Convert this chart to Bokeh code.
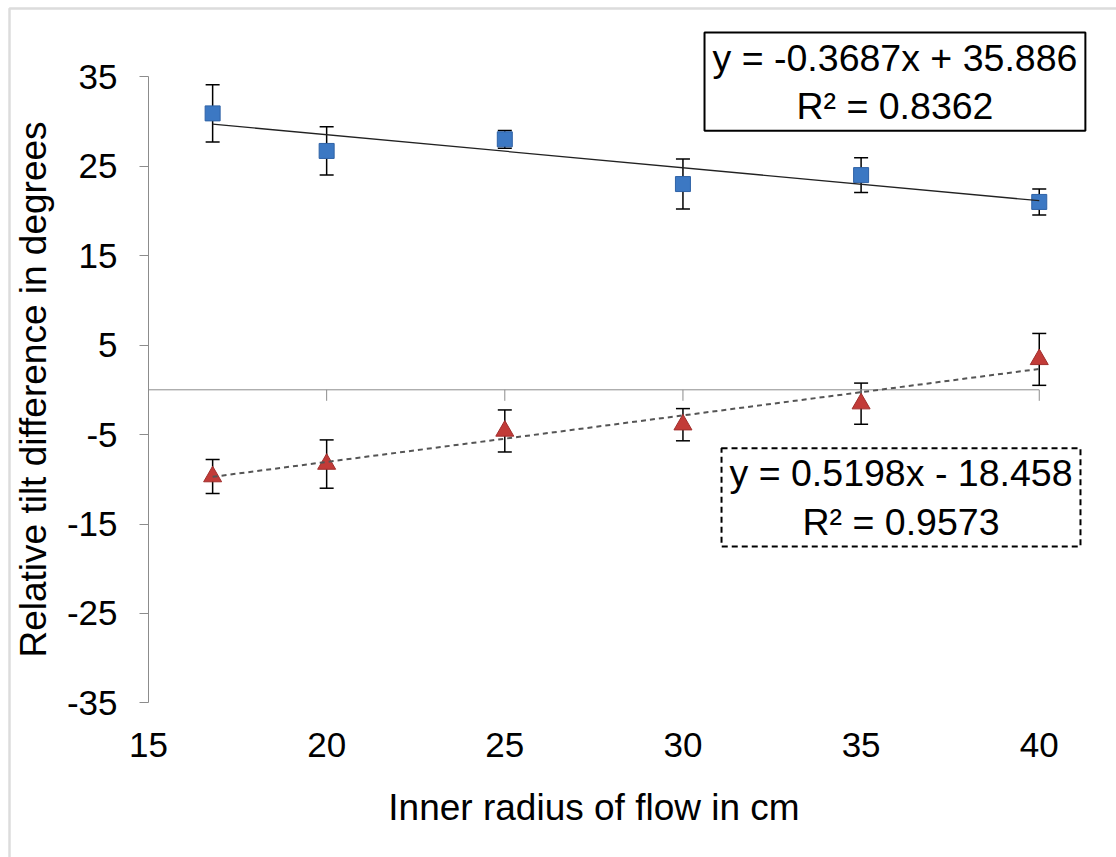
from bokeh.plotting import figure
from bokeh.models import (LinearAxis, FixedTicker, Range1d, ColumnDataSource, Whisker,
                          TeeHead, Label, BoxAnnotation)
from bokeh.embed import file_html
from bokeh.resources import INLINE

# ---- data ----
radius = [16.8, 20, 25, 30, 35, 40]
tilt_upper = [30.9, 26.7, 28.0, 23.0, 24.0, 21.0]
err_upper = [3.2, 2.7, 1.0, 2.8, 1.95, 1.45]
tilt_lower = [-9.7, -8.3, -4.6, -3.9, -1.55, 3.4]
err_lower = [1.9, 2.7, 2.35, 1.8, 2.3, 2.9]
fit_upper = (-0.3687, 35.886, 0.8362)
fit_lower = (0.5198, -18.458, 0.9573)
x_ticks = [15, 20, 25, 30, 35, 40]
y_ticks = [-35, -25, -15, -5, 5, 15, 25, 35]
x_title = "Inner radius of flow in cm"
y_title = "Relative tilt difference in degrees"

FONT = "Liberation Sans"
AXIS_GRAY = "#8c8c8c"
BLUE = "#3C78C3"
BLUE_EDGE = "#2F62A6"
RED = "#C23B38"
RED_EDGE = "#A02E2C"

W, H = 1116, 857
# pixel layout of the plot area inside the canvas
X0_PX, PX_PER_X = 148.0, 35.63     # x = 15 at 148 px
Y0_PX, PX_PER_Y = 76.2, 8.946      # y = 35 at 76.2 px
xmin, xmax = x_ticks[0], x_ticks[-1]
ymin, ymax = y_ticks[0], y_ticks[-1]
x_range = Range1d(xmin - X0_PX / PX_PER_X, xmin + (W - X0_PX) / PX_PER_X)
y_range = Range1d(ymax - (H - Y0_PX) / PX_PER_Y, ymax + Y0_PX / PX_PER_Y)

p = figure(width=W, height=H, output_backend="svg", toolbar_location=None,
           x_range=x_range, y_range=y_range,
           x_axis_location=None, y_axis_location=None,
           min_border=0, min_border_left=0, min_border_right=0,
           min_border_top=0, min_border_bottom=0)
p.xgrid.visible = False
p.ygrid.visible = False
p.outline_line_color = None
p.background_fill_color = "white"
p.border_fill_color = "white"

# y axis
yax = LinearAxis(ticker=FixedTicker(ticks=y_ticks), fixed_location=xmin, bounds=(ymin, ymax))
yax.major_label_overrides = {t: str(t) for t in y_ticks}
yax.axis_line_color = AXIS_GRAY
yax.major_tick_line_color = AXIS_GRAY
yax.major_tick_out = 9
yax.major_tick_in = 0
yax.minor_tick_line_color = None
yax.major_label_text_font = FONT
yax.major_label_text_font_size = "35px"
yax.major_label_text_color = "black"
yax.major_label_standoff = 22
yax.axis_label = y_title
yax.axis_label_text_font = FONT
yax.axis_label_text_font_size = "37px"
yax.axis_label_text_font_style = "normal"
yax.axis_label_text_color = "black"
yax.axis_label_standoff = 10
p.add_layout(yax, "left")

# x labels at bottom
xlab = LinearAxis(ticker=FixedTicker(ticks=x_ticks), fixed_location=ymin, bounds=(xmin, xmax))
xlab.major_label_overrides = {t: str(t) for t in x_ticks}
xlab.axis_line_color = None
xlab.major_tick_line_color = None
xlab.minor_tick_line_color = None
xlab.major_tick_out = 0
xlab.major_tick_in = 0
xlab.major_label_text_font = FONT
xlab.major_label_text_font_size = "35px"
xlab.major_label_text_color = "black"
xlab.major_label_standoff = 30
xlab.axis_label = x_title
xlab.axis_label_text_font = FONT
xlab.axis_label_text_font_size = "37px"
xlab.axis_label_text_font_style = "normal"
xlab.axis_label_text_color = "black"
xlab.axis_label_standoff = 27
p.add_layout(xlab, "below")

# horizontal axis line crossing at y = 0, with ticks hanging below it
tick_len = 11 / PX_PER_Y
p.segment(x0=[xmin], y0=[0], x1=[xmax], y1=[0], line_color=AXIS_GRAY, line_width=1)
p.segment(x0=x_ticks[1:], y0=[0] * (len(x_ticks) - 1), x1=x_ticks[1:],
          y1=[-tick_len] * (len(x_ticks) - 1), line_color=AXIS_GRAY, line_width=1)

src_u = ColumnDataSource(dict(x=radius, y=tilt_upper,
                              lo=[v - e for v, e in zip(tilt_upper, err_upper)],
                              hi=[v + e for v, e in zip(tilt_upper, err_upper)]))
src_l = ColumnDataSource(dict(x=radius, y=tilt_lower,
                              lo=[v - e for v, e in zip(tilt_lower, err_lower)],
                              hi=[v + e for v, e in zip(tilt_lower, err_lower)]))

for src in (src_u, src_l):
    w = Whisker(base="x", lower="lo", upper="hi", source=src,
                line_color="black", line_width=1.5,
                upper_head=TeeHead(size=14, line_color="black", line_width=1.5),
                lower_head=TeeHead(size=14, line_color="black", line_width=1.5))
    w.level = "underlay"
    p.add_layout(w)

p.scatter("x", "y", source=src_u, marker="square", size=15, fill_color=BLUE,
          line_color=BLUE_EDGE, line_width=1)
p.scatter("x", "y", source=src_l, marker="triangle", size=18, fill_color=RED,
          line_color=RED_EDGE, line_width=1)

# trendlines
xs = [radius[0], radius[-1]]
p.line(xs, [fit_upper[0] * v + fit_upper[1] for v in xs], line_color="#222222", line_width=1.3)
p.line(xs, [fit_lower[0] * v + fit_lower[1] for v in xs], line_color="#555555",
       line_width=2, line_dash="5 4")

eq1 = "y = %.4fx + %.3f\nR² = %.4f" % fit_upper
eq2 = "y = %.4fx - %.3f\nR² = %.4f" % (fit_lower[0], -fit_lower[1], fit_lower[2])
lab1 = Label(x=35.95, y=34.44, text=eq1, text_align="center", text_baseline="middle",
             text_font=FONT, text_font_size="37.5px", text_color="black",
             text_line_height=1.15,
             border_line_color="black", border_line_width=2,
             background_fill_color="white", padding=(8, 4))
lab2 = Label(x=36.12, y=-12.03, text=eq2, text_align="center", text_baseline="middle",
             text_font=FONT, text_font_size="37.5px", text_color="black",
             text_line_height=1.15,
             border_line_color="black", border_line_width=2, border_line_dash="6 4",
             background_fill_color="white", padding=(8, 4))
p.add_layout(lab1)
p.add_layout(lab2)

# outer chart border
frame_box = BoxAnnotation(left=9, right=W + 20, top=8, bottom=H + 20,
                          left_units="canvas", right_units="canvas",
                          top_units="canvas", bottom_units="canvas",
                          fill_color=None, line_color="#8a8a8a", line_width=2.5)
p.add_layout(frame_box)

open("out.html", "w").write(file_html(p, INLINE))
